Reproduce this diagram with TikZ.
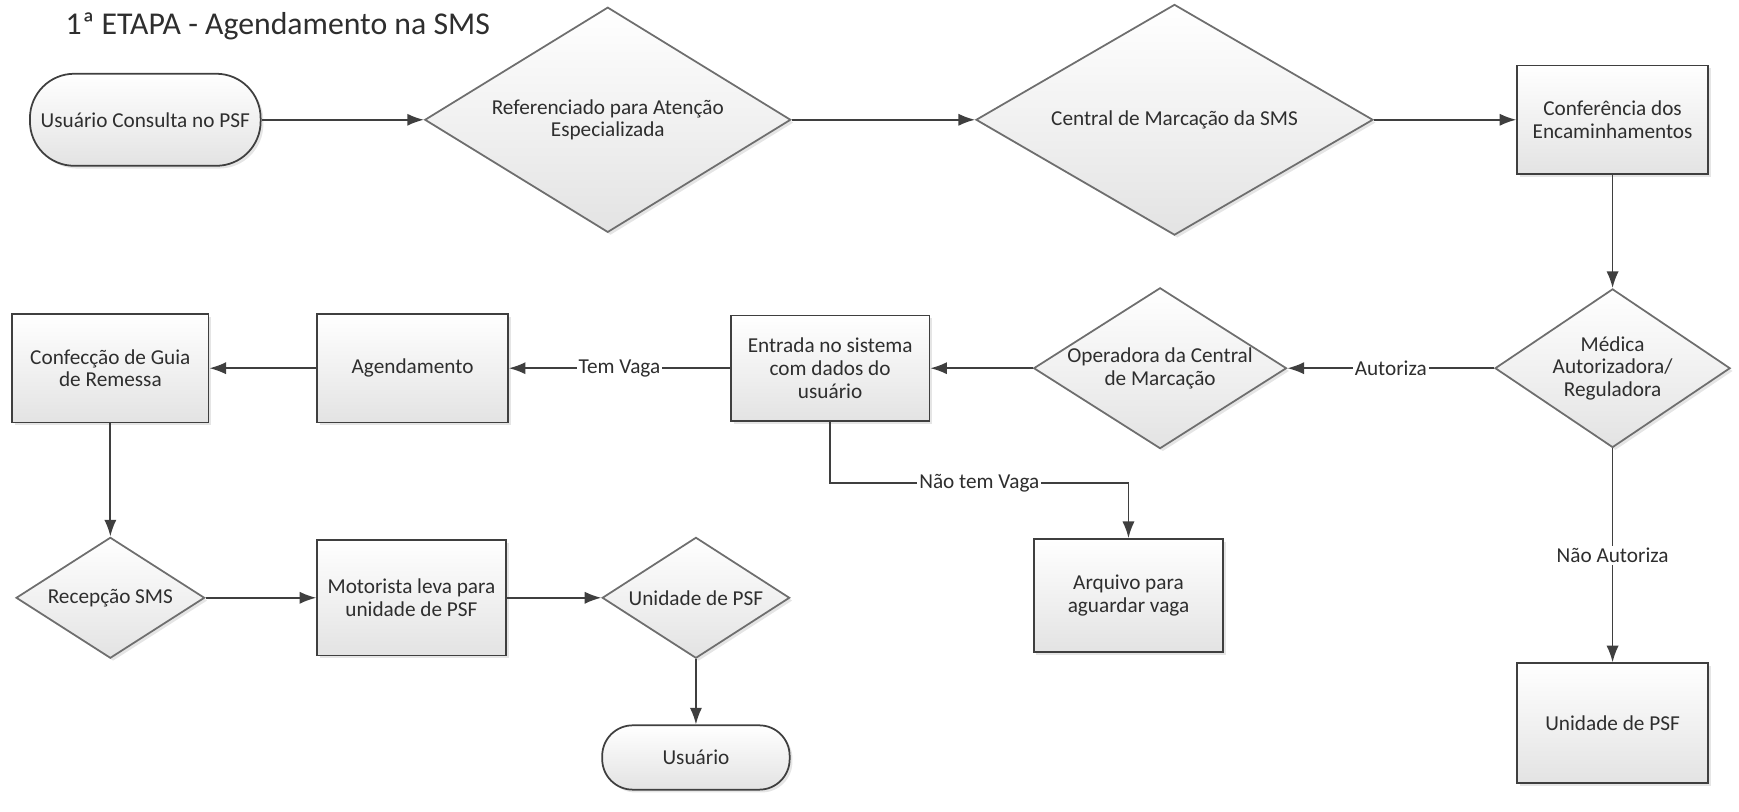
\documentclass[tikz,border=0pt]{standalone}
\usepackage{fontspec}
\setmainfont{Carlito}
\usepackage{tikz}
\usetikzlibrary{arrows.meta,positioning,shapes.geometric,shadows}
\definecolor{edge}{HTML}{3F3F3F}
\definecolor{dedge}{HTML}{6E6E6E}
\definecolor{ink}{HTML}{2E2E2E}
\newcommand{\flowfont}{\fontsize{10.9}{11.6}\selectfont}
\tikzset{
  box/.style={draw=edge, line width=0.9pt, top color=white, bottom color=black!11, align=center, inner sep=2pt, text=ink, font=\flowfont, drop shadow={shadow xshift=0.5mm, shadow yshift=-0.5mm, opacity=0.25, fill=black!40}},
  terminal/.style={box, rounded corners=0.55cm},
  dtext/.style={align=center, inner sep=0pt, text=ink, font=\flowfont},
  decision/.style={diamond, draw=dedge, line width=0.9pt, top color=white, bottom color=black!11, inner sep=0pt, drop shadow={shadow xshift=0.5mm, shadow yshift=-0.5mm, opacity=0.25, fill=black!40}, label={[dtext]center:#1}},
  arrow/.style={-{Latex[length=3mm,width=2.2mm]}, line width=0.9pt, draw=edge},
  lbl/.style={fill=white, inner sep=1pt, text=ink, font=\flowfont}
}

\begin{document}
\begin{tikzpicture}
\useasboundingbox (0,0) rectangle (31.36,-14.64);
\node[anchor=base west, text=ink, font=\fontsize{16.3}{18}\selectfont] (title) at (1.06,-0.63) {1ª ETAPA - Agendamento na SMS};
% primeira linha
\node[terminal, rounded corners=0.8cm, minimum width=4.16cm, minimum height=1.66cm] (start) at (2.62,-2.16) {Usuário Consulta no PSF};
\node[decision={Referenciado para Atenção\\Especializada}, minimum width=6.6cm, minimum height=4.06cm] (ref) at (10.96,-2.16) {};
\node[decision={Central de Marcação da SMS}, minimum width=7.16cm, minimum height=4.16cm] (central) at (21.18,-2.16) {};
\node[box, minimum width=3.44cm, minimum height=1.96cm] (conf) at (29.08,-2.16) {Conferência dos\\Encaminhamentos};
% segunda linha
\node[decision={Médica\\Autorizadora/\\Reguladora}, minimum width=4.24cm, minimum height=2.86cm] (medica) at (29.08,-6.64) {};
\node[decision={Operadora da Central\\de Marcação}, minimum width=4.56cm, minimum height=2.9cm] (oper) at (20.92,-6.64) {};
\node[box, minimum width=3.58cm, minimum height=1.9cm] (entrada) at (14.97,-6.64) {Entrada no sistema\\com dados do\\usuário};
\node[box, minimum width=3.44cm, minimum height=1.96cm] (agend) at (7.44,-6.64) {Agendamento};
\node[box, minimum width=3.54cm, minimum height=1.96cm] (confec) at (1.99,-6.64) {Confecção de Guia\\de Remessa};
% terceira linha
\node[decision={Recepção SMS}, minimum width=3.4cm, minimum height=2.18cm] (recep) at (1.99,-10.78) {};
\node[box, minimum width=3.4cm, minimum height=2.08cm] (motor) at (7.42,-10.78) {Motorista leva para\\unidade de PSF};
\node[decision={Unidade de PSF}, minimum width=3.38cm, minimum height=2.18cm] (unid) at (12.55,-10.78) {};
\node[terminal, minimum width=3.38cm, minimum height=1.16cm] (usuario) at (12.55,-13.66) {Usuário};
\node[box, minimum width=3.42cm, minimum height=2.04cm] (arquivo) at (20.35,-10.74) {Arquivo para\\aguardar vaga};
\node[box, minimum width=3.44cm, minimum height=2.16cm] (unidpsf) at (29.08,-13.04) {Unidade de PSF};
% ligacoes
\draw[arrow] (start) -- (ref);
\draw[arrow] (ref) -- (central);
\draw[arrow] (central) -- (conf);
\draw[arrow] (conf) -- (medica);
\draw[arrow] (medica) -- node[lbl] {Autoriza} (oper);
\draw[arrow] (oper) -- (entrada);
\draw[arrow] (entrada) -- node[lbl] {Tem Vaga} (agend);
\draw[arrow] (agend) -- (confec);
\draw[arrow] (confec) -- (recep);
\draw[arrow] (recep) -- (motor);
\draw[arrow] (motor) -- (unid);
\draw[arrow] (unid) -- (usuario);
\draw[arrow] (entrada.south) -- ++(0,-1.1) -| node[lbl, pos=0.25] {Não tem Vaga} (arquivo.north);
\draw[arrow] (medica) -- node[lbl] {Não Autoriza} (unidpsf);
\end{tikzpicture}
\end{document}
